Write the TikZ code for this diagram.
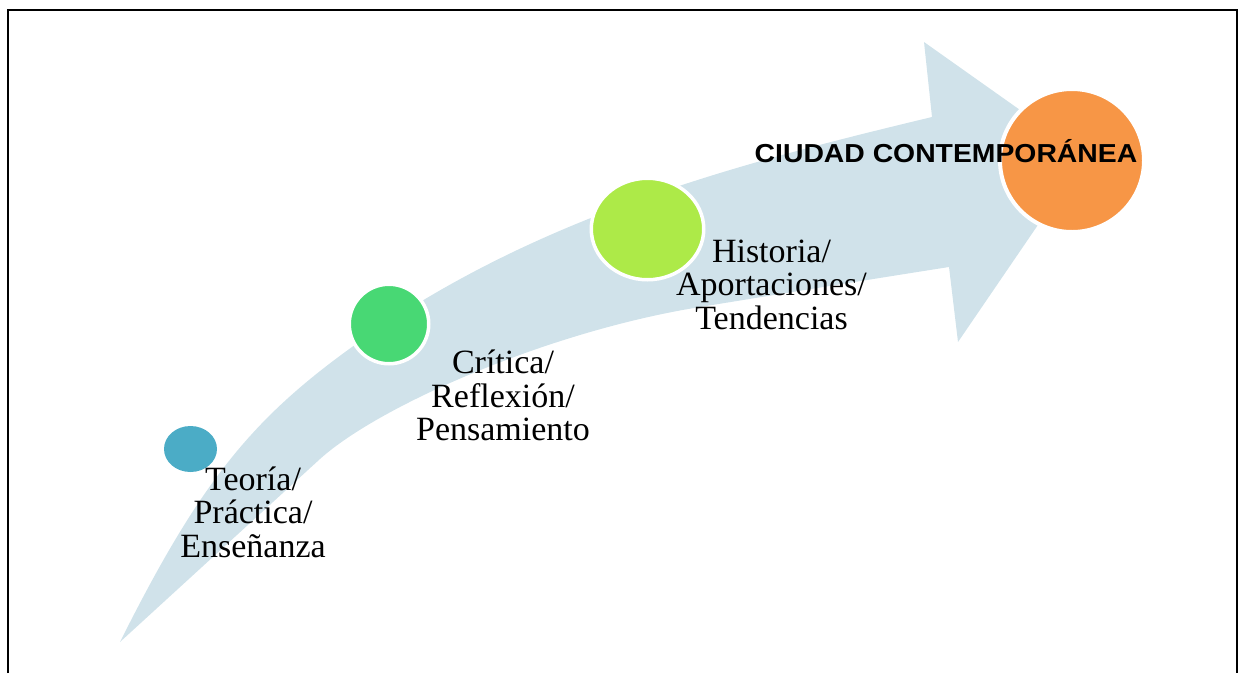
\documentclass[tikz,border=0pt]{standalone}
\usepackage{fontspec}
\usepackage{graphicx}
\setmainfont{Liberation Serif}
\newfontfamily\titlesans{Liberation Sans}
\usetikzlibrary{shapes.geometric}
\definecolor{bandcol}{RGB}{208,226,234}
\definecolor{dotblue}{RGB}{75,172,198}
\definecolor{dotgreen}{RGB}{72,216,116}
\definecolor{dotlime}{RGB}{173,234,72}
\definecolor{dotorange}{RGB}{247,150,70}
\begin{document}
\begin{tikzpicture}[x=1pt,y=-1pt,
  lbl/.style={align=center,inner sep=0pt,anchor=base,font=\fontsize{34}{33.5}\selectfont},
  dot/.style={ellipse,inner sep=0pt,draw=white}]
\useasboundingbox (0,0) rectangle (1247,673);
% curved arrow band
\fill[bandcol] (120,642)
  .. controls (200,482) and (252,419) .. (352,347)
  .. controls (532,217.4) and (732,165) .. (932,117)
  -- (924,42) -- (1085,156) -- (958,342) -- (949,267)
  .. controls (860,281) and (780,294) .. (700,307)
  .. controls (550,331) and (380,405) .. (320,459)
  -- cycle;
% dots
\node[ellipse,inner sep=0pt,fill=dotblue,minimum width=53,minimum height=46] (d1) at (190.5,449) {};
\node[dot,fill=dotgreen,line width=3.5,minimum width=79.5,minimum height=79.5] (d2) at (389,324) {};
\node[dot,fill=dotlime,line width=3.5,minimum width=112.5,minimum height=101.5] (d3) at (647.5,229) {};
\node[dot,fill=dotorange,line width=4,minimum width=144,minimum height=143] (d4) at (1072,160.5) {};
% labels
\node[lbl] (l1) at (253,557) {Teoría/\\Práctica/\\Enseñanza};
\node[lbl] (l2) at (503,440.5) {Crítica/\\Reflexión/\\Pensamiento};
\node[lbl] (l3) at (771.5,329) {Historia/\\Aportaciones/\\Tendencias};
\node[inner sep=0pt,anchor=base,font=\titlesans\bfseries\fontsize{26}{30}\selectfont] (l4) at (946,162.5) {\scalebox{1.09}[1]{CIUDAD CONTEMPORÁNEA}};
% frame
\draw[line width=2.5pt] (8,673) -- (8,10) -- (1237,10) -- (1237,673);
\end{tikzpicture}
\end{document}
